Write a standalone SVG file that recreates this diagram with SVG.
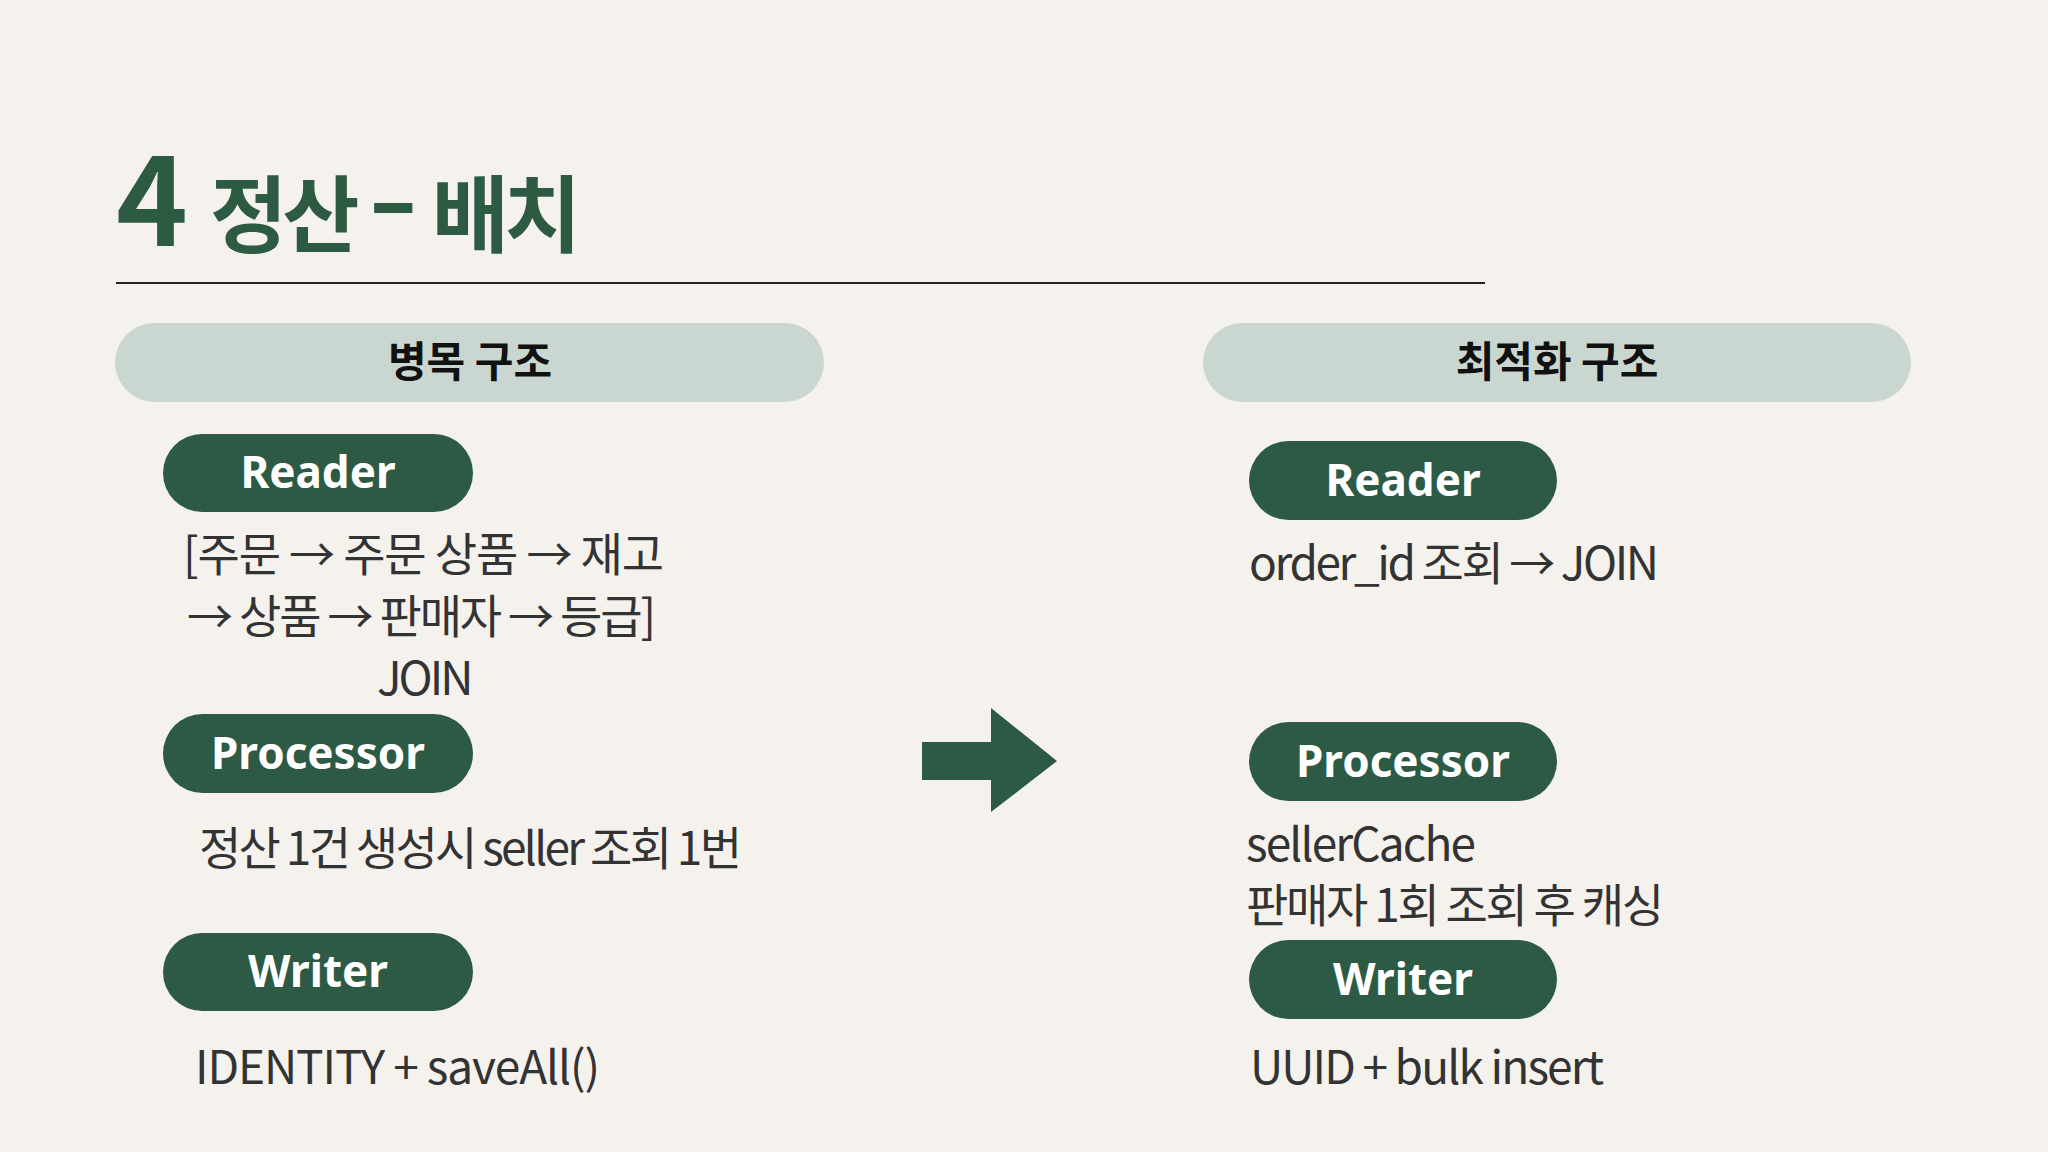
<svg xmlns="http://www.w3.org/2000/svg" width="2048" height="1152" viewBox="0 0 2048 1152">
<style>
.title{font-family:"Noto Sans CJK KR","Noto Sans",sans-serif;font-weight:700;fill:#2c5a43}
.hdr{fill:#cad7d1}
.hdrt{font-family:"Noto Sans CJK KR",sans-serif;font-weight:700;font-size:42px;fill:#111;text-anchor:middle}
.pill{fill:#2d5a45}
.pillt{font-family:"Noto Sans","Noto Sans CJK KR",sans-serif;font-weight:700;font-size:44px;fill:#fff;text-anchor:middle}
.body{font-family:"Noto Sans CJK KR","Noto Sans",sans-serif;font-size:46px;fill:#333;letter-spacing:-3px}
</style>
<rect width="2048" height="1152" fill="#f5f2ee"/>
<g id="title">
<text class="title" x="116" y="246"><tspan font-size="122">4</tspan><tspan font-size="84" dx="22" letter-spacing="-5">정산 </tspan><tspan font-family="Noto Sans, sans-serif" font-size="90" dy="-14" dx="2">–</tspan><tspan font-size="84" dy="14" dx="16" letter-spacing="-5">배치</tspan></text>
<line x1="116" y1="283" x2="1485" y2="283" stroke="#222" stroke-width="2"/>
</g>
<g id="hdr-left">
<rect class="hdr" x="115" y="323" width="709" height="79" rx="39.5"/>
<text class="hdrt" x="470" y="377">병목 구조</text>
</g>
<g id="hdr-right">
<rect class="hdr" x="1203" y="323" width="708" height="79" rx="39.5"/>
<text class="hdrt" x="1557" y="377">최적화 구조</text>
</g>
<g id="left-reader">
<rect class="pill" x="163" y="434" width="310" height="78" rx="39"/>
<text class="pillt" x="318" y="488">Reader</text>
<text class="body" x="183" y="571" textLength="478" lengthAdjust="spacing">[주문 → 주문 상품 →  재고</text>
<text class="body" x="187" y="633" textLength="466" lengthAdjust="spacing">→ 상품 → 판매자 → 등급]</text>
<text class="body" x="377" y="695">JOIN</text>
</g>
<g id="left-processor">
<rect class="pill" x="163" y="714" width="310" height="79" rx="39.5"/>
<text class="pillt" x="318" y="769">Processor</text>
<text class="body" x="199" y="865" textLength="540" lengthAdjust="spacing">정산 1건 생성시 seller 조회 1번</text>
</g>
<g id="left-writer">
<rect class="pill" x="163" y="933" width="310" height="78" rx="39"/>
<text class="pillt" x="318" y="987">Writer</text>
<text class="body" x="195" y="1084" textLength="402" lengthAdjust="spacing">IDENTITY + saveAll()</text>
</g>
<g id="connectors">
<polygon points="922,742 991,742 991,708 1057,761 991,812 991,780 922,780" fill="#2d5a45"/>
</g>
<g id="right-reader">
<rect class="pill" x="1249" y="441" width="308" height="79" rx="39.5"/>
<text class="pillt" x="1403" y="496">Reader</text>
<text class="body" x="1249" y="580" textLength="407" lengthAdjust="spacing">order_id 조회 → JOIN</text>
</g>
<g id="right-processor">
<rect class="pill" x="1249" y="722" width="308" height="79" rx="39.5"/>
<text class="pillt" x="1403" y="777">Processor</text>
<text class="body" x="1246" y="861" textLength="227" lengthAdjust="spacing">sellerCache</text>
<text class="body" x="1246" y="922" textLength="415" lengthAdjust="spacing">판매자 1회 조회 후 캐싱</text>
</g>
<g id="right-writer">
<rect class="pill" x="1249" y="940" width="308" height="79" rx="39.5"/>
<text class="pillt" x="1403" y="995">Writer</text>
<text class="body" x="1250" y="1084" textLength="351" lengthAdjust="spacing">UUID + bulk insert</text>
</g>
</svg>
